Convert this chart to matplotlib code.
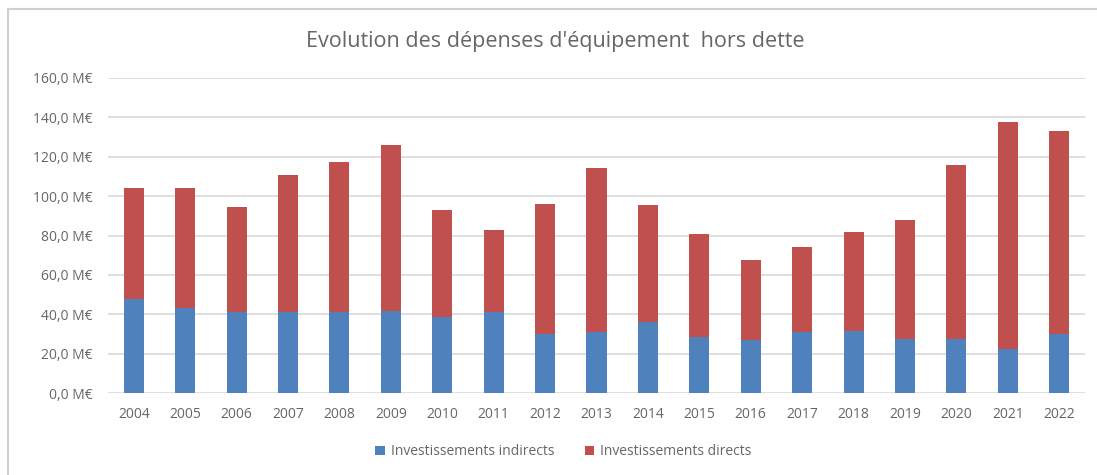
import matplotlib.pyplot as plt
import matplotlib.patches as patches
import numpy as np

years = [str(y) for y in range(2004, 2023)]
indirects = [47.9, 43.2, 40.9, 41.1, 41.1, 41.5, 38.4, 40.9, 30.1, 31.0,
             35.9, 28.3, 27.1, 31.0, 31.6, 27.4, 27.4, 22.3, 30.1]
totals = [104.1, 104.1, 94.5, 110.5, 117.1, 126.1, 92.8, 82.9, 96.1, 114.1,
          95.6, 80.6, 67.4, 74.1, 81.7, 87.7, 115.8, 137.4, 133.2]
directs = [t - i for t, i in zip(totals, indirects)]

blue = '#4F81BD'
red = '#C0504D'
grey = '#666666'

plt.rcParams['font.family'] = ['Open Sans', 'DejaVu Sans']

fig = plt.figure(figsize=(10.97, 4.75), dpi=100)
ax = fig.add_axes([0.0985, 0.1726, 0.8905, 0.6632])

x = np.arange(len(years))
ax.bar(x, indirects, width=0.39, color=blue, label='Investissements indirects', zorder=3)
ax.bar(x, directs, width=0.39, bottom=indirects, color=red, label='Investissements directs', zorder=3)

ax.set_xlim(-0.5, len(years) - 0.5)
ax.set_ylim(0, 160)
ax.set_yticks(np.arange(0, 161, 20))
ax.set_yticklabels(['{:.1f} M€'.format(v).replace('.', ',') for v in np.arange(0, 161, 20)])
ax.set_xticks(x)
ax.set_xticklabels(years)
ax.tick_params(axis='both', length=0, labelsize=10, colors=grey)
ax.tick_params(axis='y', pad=11)
ax.tick_params(axis='x', pad=10)
ax.grid(axis='y', color='#D9D9D9', linewidth=1.2, zorder=0)
for s in ax.spines.values():
    s.set_visible(False)

fig.text(0.506, 0.912, "Evolution des dépenses d'équipement  hors dette",
         ha='center', va='center', fontsize=15.5, color=grey)

ax.legend(loc='center', bbox_to_anchor=(0.466, -0.187), ncol=2, frameon=False,
          fontsize=10, labelcolor=grey, handlelength=0.7, handleheight=0.7,
          columnspacing=2.2, handletextpad=0.4)

fig.patches.append(patches.Rectangle((8 / 1097, -0.1), 1.2, 1.1 - 9 / 475, transform=fig.transFigure,
                                     fill=False, edgecolor='#D0D0D0', linewidth=1.5))

fig.savefig('out.png', dpi=100)
